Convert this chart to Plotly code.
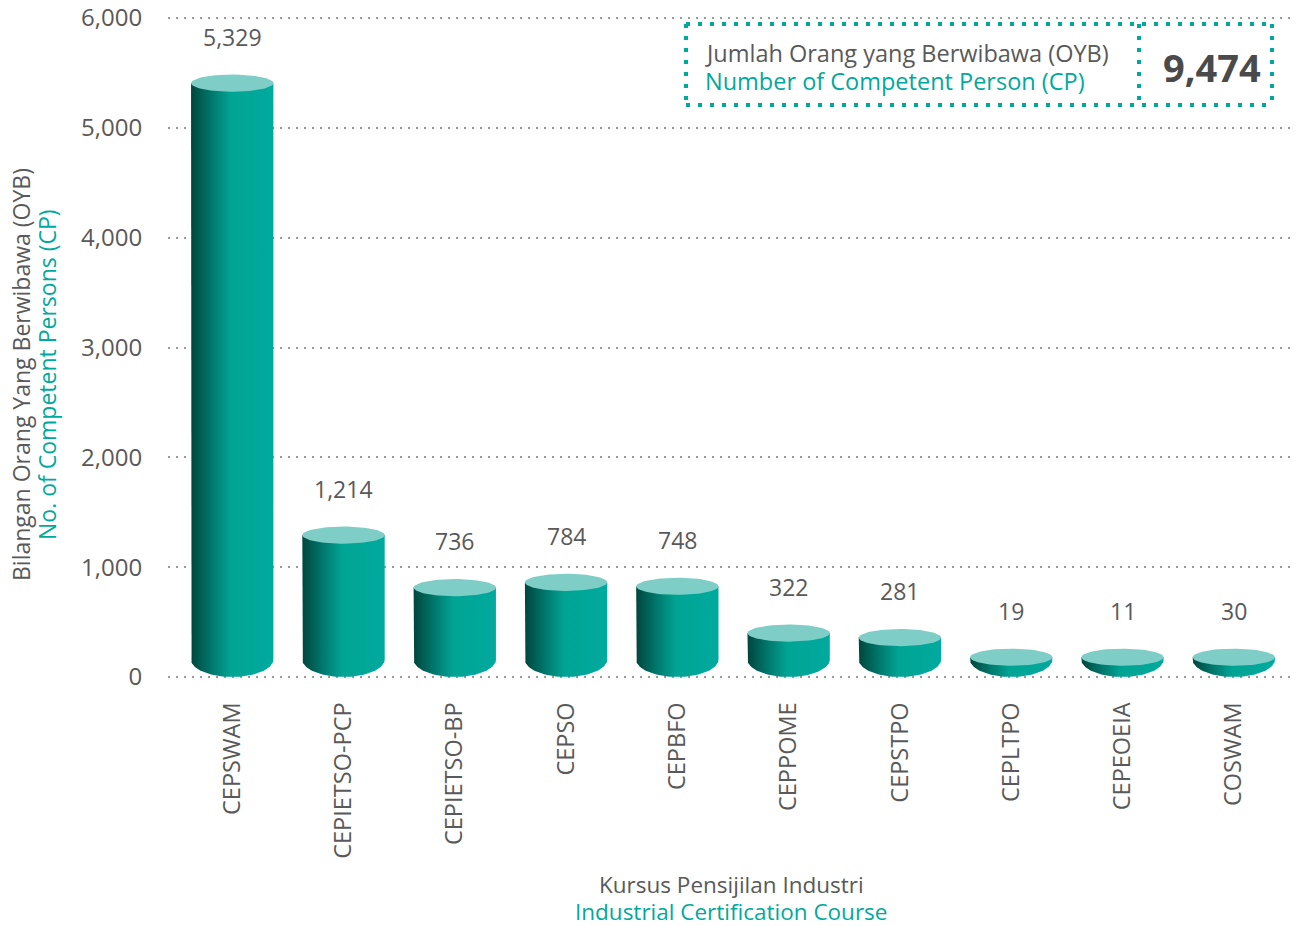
import numpy as np
import plotly.graph_objects as go

# ---- data ----
categories = ["CEPSWAM", "CEPIETSO-PCP", "CEPIETSO-BP", "CEPSO", "CEPBFO",
              "CEPPOME", "CEPSTPO", "CEPLTPO", "CEPEOEIA", "COSWAM"]
values = [5329, 1214, 736, 784, 748, 322, 281, 19, 11, 30]
y_ticks = [0, 1000, 2000, 3000, 4000, 5000, 6000]
total_cp = 9474

# ---- style ----
FONT = "Open Sans"
W = 400
GRAY = "#595959"
TEAL = "#00a99d"
TOP = "#7ecdc6"
HALF_W = 0.37      # half width of a cylinder, x units
RY_TOP = 78        # top ellipse vertical semi-axis (y units)
RY_BOT = 160       # bottom arc vertical semi-axis (y units)
MIN_TOP = 180

# page pixel geometry (page body has an 8px margin)
OFF = 8
Y0_PX, Y6000_PX = 677, 18          # where 0 and 6000 sit on the page
L, R, T, B = 168, 1298, 14, 681    # plot area on the page
upp = 6000 / (Y0_PX - Y6000_PX)    # y units per pixel
y_range = [-(B - Y0_PX) * upp, 6000 + (Y6000_PX - T) * upp]

fig = go.Figure()
t = np.linspace(0, np.pi, 60)
tt = np.linspace(0, 2 * np.pi, 90)
for i, v in enumerate(values):
    top = max(v + RY_TOP, MIN_TOP)
    bot = RY_BOT
    xs = np.concatenate([[i - HALF_W], i - HALF_W * np.cos(t), [i + HALF_W, i - HALF_W]])
    ys = np.concatenate([[top], bot - RY_BOT * np.sin(t), [top, top]])
    fig.add_trace(go.Scatter(
        x=xs, y=ys, fill="toself", mode="lines", line=dict(width=0),
        fillgradient=dict(type="horizontal",
                          colorscale=[[0, "#00463d"], [0.25, "#00786d"],
                                      [0.48, "#00a494"], [1, "#00aa9e"]]),
        hoverinfo="skip", showlegend=False))
    fig.add_trace(go.Scatter(
        x=i + HALF_W * np.cos(tt), y=top + RY_TOP * np.sin(tt),
        fill="toself", mode="lines", line=dict(width=0), fillcolor=TOP,
        hoverinfo="skip", showlegend=False))
    fig.add_annotation(x=i, y=top + RY_TOP, text=f"{v:,}", showarrow=False,
                       xanchor="center", yanchor="bottom", yshift=20,
                       font=dict(family=FONT, size=23, color=GRAY, weight=W))

fig.update_xaxes(range=[-0.577, 9.577], tickvals=list(range(len(categories))),
                 ticktext=categories, tickangle=-90, showgrid=False, zeroline=False,
                 ticks="outside", ticklen=11, tickcolor="rgba(0,0,0,0)",
                 tickfont=dict(family=FONT, size=23.5, color=GRAY, weight=W),
                 showline=False, automargin=False)
fig.update_yaxes(range=y_range, tickvals=y_ticks, tickformat=",",
                 showgrid=True, gridcolor="#9a9a9a", griddash="2px,6px", gridwidth=2,
                 zeroline=False, ticks="outside", ticklen=20,
                 tickcolor="rgba(0,0,0,0)", automargin=False,
                 ticklabeloverflow="allow",
                 tickfont=dict(family=FONT, size=24, color=GRAY, weight=W))

def px(x):
    return (x - L) / (R - L)
def py(y):
    return (B - y) / (B - T)

def note(x, y, text, size, color, angle=0, xanchor="center", weight=W):
    fig.add_annotation(xref="paper", yref="paper", x=px(x), y=py(y), text=text,
                       showarrow=False, textangle=angle, xanchor=xanchor,
                       yanchor="middle",
                       font=dict(family=FONT, size=size, color=color, weight=weight))

# axis titles
note(21, 375, "Bilangan Orang Yang Berwibawa (OYB)", 23, GRAY, angle=-90)
note(47, 375, "No. of Competent Persons (CP)", 23, TEAL, angle=-90)
note(731, 884, "Kursus Pensijilan Industri", 22.5, GRAY)
note(731, 911, "Industrial Certification Course", 22.5, TEAL)

# info box
box_line = dict(color=TEAL, width=4, dash="4px,8px")
bx0, bx1, by0, by1, bdiv = 686, 1272, 24, 105, 1139
for (x0, y0, x1, y1) in [(bx0, by0, bx1, by0), (bx0, by1, bx1, by1),
                         (bx0, by0, bx0, by1), (bx1, by0, bx1, by1),
                         (bdiv, by0, bdiv, by1)]:
    fig.add_shape(type="line", xref="paper", yref="paper",
                  x0=px(x0), y0=py(y0), x1=px(x1), y1=py(y1), line=box_line)

note(703, 53, "Jumlah Orang yang Berwibawa (OYB)", 23.5, GRAY, xanchor="left")
note(703, 81, "Number of Competent Person (CP)", 23.5, TEAL, xanchor="left")
note(1212, 67, f"<b>{total_cp:,}</b>", 38, "#4a4a4a", weight=700)

fig.update_layout(width=1300 - OFF, height=926 - OFF,
                  margin=dict(l=L - OFF, r=1300 - R, t=T - OFF, b=926 - B),
                  plot_bgcolor="white", paper_bgcolor="white", showlegend=False)

fig.write_html("out.html")
